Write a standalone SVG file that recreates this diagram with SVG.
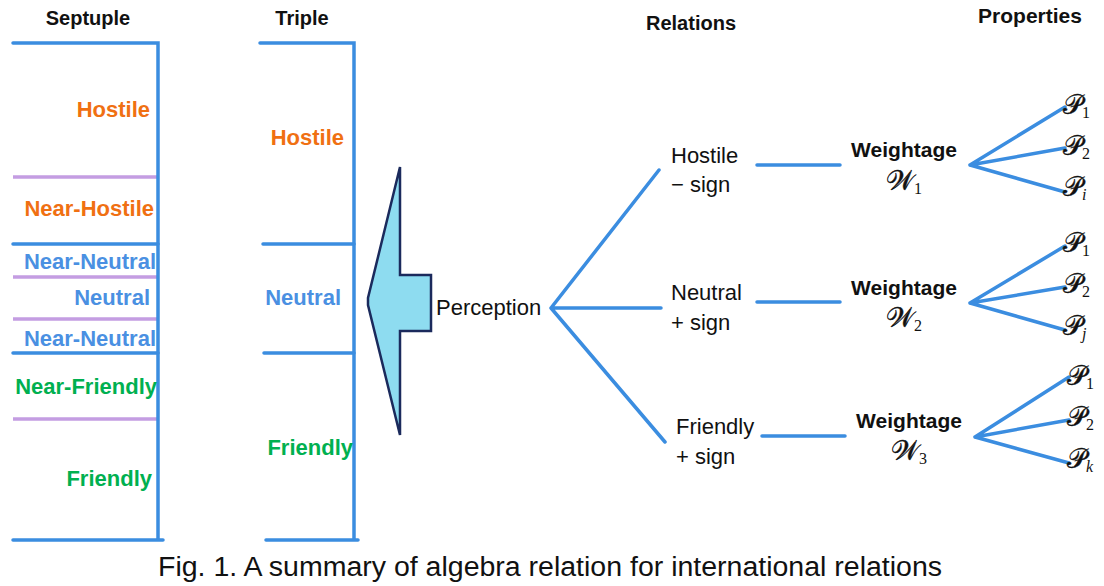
<svg xmlns="http://www.w3.org/2000/svg" width="1104" height="586" viewBox="0 0 1104 586">
<style>
.ln{stroke:#3b8de0;stroke-width:3.5;fill:none;stroke-linecap:round}
.pl{stroke:#c49de2;stroke-width:3.5;fill:none}
.hd{font-family:"Liberation Sans",Arial,sans-serif;font-weight:bold;font-size:20px;fill:#111;text-anchor:middle}
.lb{font-family:"Liberation Sans",Arial,sans-serif;font-weight:bold;font-size:22px;text-anchor:end}
.or{fill:#f07012}.bl{fill:#4a90e2}.gr{fill:#00b050}
.tx{font-family:"Liberation Sans",Arial,sans-serif;font-size:22px;fill:#111}
.wt{font-family:"Liberation Sans",Arial,sans-serif;font-weight:bold;font-size:21px;fill:#111;text-anchor:middle}
.mt{font-family:"DejaVu Serif","DejaVu Sans","Noto Sans",serif;font-size:27px;fill:#111;stroke:#111;stroke-width:0.4}
.sb{font-family:"Liberation Serif","DejaVu Serif",serif;font-size:16px;stroke:none}
.it{font-style:italic}
</style>
<g id="headers">
<text class="hd" x="88" y="25">Septuple</text>
<text class="hd" x="302" y="25">Triple</text>
<text class="hd" x="691" y="30">Relations</text>
<text class="hd" x="1030" y="23" style="font-size:21px">Properties</text>
</g>
<g id="septuple">
<path class="pl" d="M13,177H158M13,277H158M13,319H158M13,419H158"/>
<path class="ln" d="M13,244H158M13,353H158"/>
<path class="ln" d="M13,43H158V540M13,540H163" stroke-linecap="butt"/>
<text class="lb or" x="150" y="117">Hostile</text>
<text class="lb or" x="154" y="216">Near-Hostile</text>
<text class="lb bl" x="156" y="269">Near-Neutral</text>
<text class="lb bl" x="150" y="305">Neutral</text>
<text class="lb bl" x="156" y="346">Near-Neutral</text>
<text class="lb gr" x="157" y="394">Near-Friendly</text>
<text class="lb gr" x="152" y="486">Friendly</text>
</g>
<g id="triple">
<path class="ln" d="M263,244H354M264,353H354"/>
<path class="ln" d="M260,43H354V540M266,540H358" stroke-linecap="butt"/>
<text class="lb or" x="344" y="145">Hostile</text>
<text class="lb bl" x="341" y="305">Neutral</text>
<text class="lb gr" x="353" y="455">Friendly</text>
</g>
<g id="arrow">
<polygon points="400,167 400,275 431,275 431,331 400,331 400,435 368,305 368,298" fill="#8edcf0" stroke="#1b2a5c" stroke-width="2.5" stroke-linejoin="miter"/>
</g>
<g id="perception">
<text class="tx" x="436" y="315">Perception</text>
</g>
<g id="connectors">
<path class="ln" d="M551,308L659,170M551,308H661M551,308L665,442"/>
<path class="ln" d="M757,165H840M757,302H840M762,436H845"/>
<path class="ln" d="M970,165L1065,107M970,165L1065,148M970,165L1065,192"/>
<path class="ln" d="M970,303L1065,246M970,303L1065,287M970,303L1065,330"/>
<path class="ln" d="M975,437L1069,377M975,437L1069,420M975,437L1069,463"/>
</g>
<g id="rel-hostile">
<text class="tx" x="671" y="163">Hostile</text>
<text class="tx" x="671" y="192">− sign</text>
</g>
<g id="rel-neutral">
<text class="tx" x="671" y="300">Neutral</text>
<text class="tx" x="671" y="330">+ sign</text>
</g>
<g id="rel-friendly">
<text class="tx" x="676" y="434">Friendly</text>
<text class="tx" x="676" y="464">+ sign</text>
</g>
<g id="w1">
<text class="wt" x="904" y="157">Weightage</text>
<text class="mt" x="886" y="190">𝒲<tspan class="sb" dy="4">1</tspan></text>
</g>
<g id="w2">
<text class="wt" x="904" y="295">Weightage</text>
<text class="mt" x="886" y="327">𝒲<tspan class="sb" dy="4">2</tspan></text>
</g>
<g id="w3">
<text class="wt" x="909" y="428">Weightage</text>
<text class="mt" x="891" y="460">𝒲<tspan class="sb" dy="4">3</tspan></text>
</g>
<g id="props1">
<text class="mt" x="1063" y="114">𝒫<tspan class="sb" dy="4">1</tspan></text>
<text class="mt" x="1063" y="155">𝒫<tspan class="sb" dy="4">2</tspan></text>
<text class="mt" x="1063" y="196">𝒫<tspan class="sb it" dy="4">i</tspan></text>
</g>
<g id="props2">
<text class="mt" x="1063" y="252">𝒫<tspan class="sb" dy="4">1</tspan></text>
<text class="mt" x="1063" y="293">𝒫<tspan class="sb" dy="4">2</tspan></text>
<text class="mt" x="1063" y="335">𝒫<tspan class="sb it" dy="4">j</tspan></text>
</g>
<g id="props3">
<text class="mt" x="1067" y="385">𝒫<tspan class="sb" dy="4">1</tspan></text>
<text class="mt" x="1067" y="426">𝒫<tspan class="sb" dy="4">2</tspan></text>
<text class="mt" x="1067" y="468">𝒫<tspan class="sb it" dy="4">k</tspan></text>
</g>
<g id="caption">
<text x="158" y="576" style="font-family:'Liberation Sans',Arial,sans-serif;font-size:27px;fill:#111" textLength="784" lengthAdjust="spacingAndGlyphs">Fig. 1. A summary of algebra relation for international relations</text>
</g>
</svg>
